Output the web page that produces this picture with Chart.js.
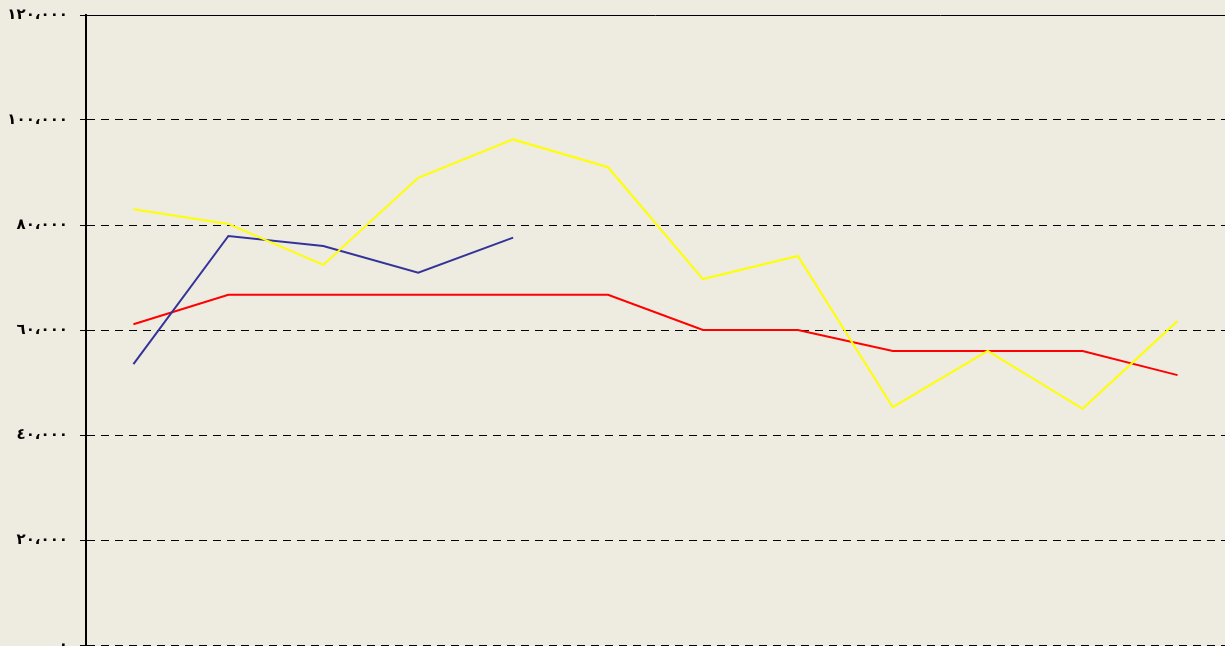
<!DOCTYPE html>
<html>
<head>
<meta charset="utf-8">
<script src="https://cdn.jsdelivr.net/npm/chart.js@4/dist/chart.umd.min.js"></script>
<style>
  html, body { margin: 0; padding: 0; background: #EEEBE0; }
  #wrap { width: 1225px; height: 646px; }
</style>
</head>
<body>
<div id="wrap"><canvas id="c" width="1225" height="646"></canvas></div>
<script>
const categories = ['1','2','3','4','5','6','7','8','9','10','11','12'];
const yellowValues = [83000, 80200, 72400, 89000, 96300, 91000, 69700, 74100, 45300, 56000, 45000, 61700];
const redValues    = [61100, 66700, 66700, 66700, 66700, 66700, 60000, 60000, 56000, 56000, 56000, 51400];
const blueValues   = [53500, 77900, 76000, 70900, 77600, null, null, null, null, null, null, null];
const tickLabels = {0:'٠', 20000:'٢٠،٠٠٠', 40000:'٤٠،٠٠٠', 60000:'٦٠،٠٠٠', 80000:'٨٠،٠٠٠', 100000:'١٠٠،٠٠٠', 120000:'١٢٠،٠٠٠'};

const topLine = {
  id: 'topLine',
  afterDraw(chart) {
    const y = chart.scales.y;
    const ctx = chart.ctx;
    const py = Math.round(y.getPixelForValue(120000)) + 0.5;
    ctx.save();
    ctx.strokeStyle = '#000';
    ctx.lineWidth = 1;
    ctx.setLineDash([]);
    ctx.beginPath();
    ctx.moveTo(chart.chartArea.left, py);
    ctx.lineTo(chart.chartArea.right, py);
    ctx.stroke();
    ctx.restore();
  }
};

new Chart(document.getElementById('c'), {
  type: 'line',
  data: {
    labels: categories,
    datasets: [
      { data: yellowValues, borderColor: '#FFFF00', borderWidth: 2, pointRadius: 0, tension: 0, spanGaps: false },
      { data: blueValues, borderColor: '#333399', borderWidth: 2, pointRadius: 0, tension: 0, spanGaps: false },
      { data: redValues, borderColor: '#FF0000', borderWidth: 2, pointRadius: 0, tension: 0, spanGaps: false }
    ]
  },
  options: {
    responsive: false,
    animation: false,
    events: [],
    layout: { padding: { top: 15, bottom: 1, left: 0, right: 0 } },
    plugins: { legend: { display: false }, tooltip: { enabled: false } },
    scales: {
      x: {
        display: false,
        offset: true,
        grid: { display: false }
      },
      y: {
        min: 0, max: 120000,
        afterFit(scale) { scale.width = 86; scale.paddingTop = 0; scale.paddingBottom = 0; },
        border: { display: true, color: '#000', width: 2, dash: [8, 6] },
        grid: {
          color: '#000', lineWidth: 1, tickLength: 6, tickColor: '#000',
          tickBorderDash: [1, 0]
        },
        ticks: {
          stepSize: 20000,
          padding: 12,
          color: '#000',
          font: { family: 'DejaVu Sans', size: 15, weight: 'bold' },
          callback: (v) => tickLabels[v]
        }
      }
    }
  },
  plugins: [topLine]
});
</script>
</body>
</html>
